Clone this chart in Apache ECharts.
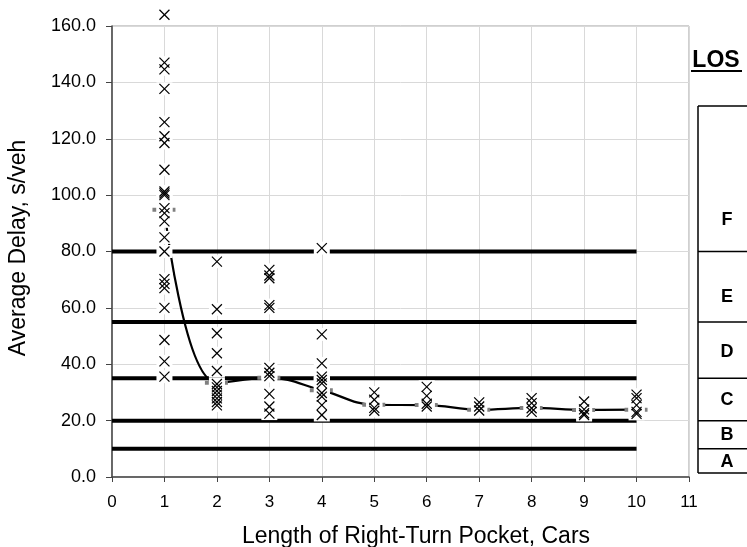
<!DOCTYPE html>
<html>
<head>
<meta charset="utf-8">
<script src="https://cdn.jsdelivr.net/npm/echarts@6/dist/echarts.min.js"></script>
<style>
html, body { margin: 0; padding: 0; background: #fff; }
#chart { width: 747px; height: 547px; }
</style>
</head>
<body>
<div id="chart"></div>
<script>
var delays1 = [164, 147, 144.6, 137.7, 125.9, 120.9, 118.5, 109, 101.3, 100.6, 100, 95.4, 93.6, 90.7, 85, 80, 70.2, 68.5, 67, 60, 48.6, 41, 35.6];
var delays2 = [76.4, 59.5, 51, 43.9, 37.6, 33, 31.8, 30.5, 29.2, 27.9, 26.6, 25.4];
var delays3 = [22.5, 25, 29.5, 35.8, 37, 38.7, 60, 61, 70.5, 71.5, 73.5];
var delays4 = [22, 25.5, 28.5, 29.8, 33.2, 34.4, 35.6, 40.3, 50.6, 81.2];
var delays5 = [30, 27.4, 24.5, 23.5];
var delays6 = [32, 28.8, 26, 25];
var delays7 = [26.5, 25, 23.6];
var delays8 = [28, 26.2, 24.4, 23.1];
var delays9 = [26.8, 24, 22.6, 22];
var delays10 = [29.2, 28, 25.5, 23.1, 22.4];

var pocketLengths = [1, 2, 3, 4, 5, 6, 7, 8, 9, 10];
var meanDelay = [94.8, 33.4, 35.2, 30.8, 25.6, 25.5, 23.9, 24.5, 23.8, 23.9];

// level of service bands
var losThresholds = [10, 20, 35, 55, 80];
var losLineX = [0, 10];
var losLabels = ['A', 'B', 'C', 'D', 'E', 'F'];
var losLabelDelay = [5.3, 14.8, 27.3, 44.4, 64, 91.2];

var FONT = '"Liberation Sans", Arial, sans-serif';

var allDelays = [delays1, delays2, delays3, delays4, delays5, delays6, delays7, delays8, delays9, delays10];
var obsData = [];
for (var i = 0; i < allDelays.length; i++) {
	for (var j = 0; j < allDelays[i].length; j++) {
		obsData.push([pocketLengths[i], allDelays[i][j]]);
	}
}
var meanData = pocketLengths.map(function (x, i) { return [x, meanDelay[i]]; });

// white patch behind every marker
function renderPatch(params, api) {
	var pt = api.coord([api.value(0), api.value(1)]);
	return { type: 'rect', shape: { x: pt[0] - 8, y: pt[1] - 6.5, width: 16, height: 13 }, style: { fill: '#fff' } };
}

function renderCross(params, api) {
	var pt = api.coord([api.value(0), api.value(1)]);
	var h = 5;
	var ln = { stroke: '#000', lineWidth: 1.2 };
	return {
		type: 'group',
		children: [
			{ type: 'line', shape: { x1: pt[0] - h, y1: pt[1] - h, x2: pt[0] + h, y2: pt[1] + h }, style: ln },
			{ type: 'line', shape: { x1: pt[0] - h, y1: pt[1] + h, x2: pt[0] + h, y2: pt[1] - h }, style: ln }
		]
	};
}

function renderDash(params, api) {
	var pt = api.coord([api.value(0), api.value(1)]);
	return {
		type: 'line',
		shape: { x1: pt[0] - 12, y1: pt[1], x2: pt[0] + 12, y2: pt[1] },
		style: { stroke: '#808080', lineWidth: 4, lineDash: [5, 4] }
	};
}

var chart = echarts.init(document.getElementById('chart'));

var series = [];
losThresholds.forEach(function (t) {
	series.push({
		type: 'line',
		data: losLineX.map(function (x) { return [x, t]; }),
		symbol: 'none',
		silent: true,
		z: 3,
		lineStyle: { color: '#000', width: 4, cap: 'butt' }
	});
});
series.push({
	type: 'line',
	data: meanData,
	smooth: 0.4,
	symbol: 'none',
	silent: true,
	z: 4,
	lineStyle: { color: '#000', width: 2.2 }
});
series.push({ type: 'custom', data: meanData, renderItem: renderDash, z: 5, silent: true });
series.push({ type: 'custom', data: obsData, renderItem: renderPatch, z: 6, silent: true });
series.push({ type: 'custom', data: obsData, renderItem: renderCross, z: 7, silent: true });

var option = {
	animation: false,
	grid: { left: 112, right: 58, top: 26, bottom: 70, show: true, borderColor: '#a0a0a0', borderWidth: 1 },
	xAxis: {
		type: 'value', min: 0, max: 11, interval: 1,
		axisLine: { lineStyle: { color: '#444', width: 1.5 } },
		axisTick: { show: true, length: 5, lineStyle: { color: '#444' } },
		axisLabel: { color: '#000', fontFamily: FONT, fontSize: 17, margin: 17 },
		splitLine: { show: true, lineStyle: { color: '#d9d9d9', width: 1 } }
	},
	yAxis: {
		type: 'value', min: 0, max: 160, interval: 20,
		axisLine: { show: true, lineStyle: { color: '#444', width: 1.5 } },
		axisTick: { show: true, length: 6, lineStyle: { color: '#444' } },
		axisLabel: { color: '#000', fontFamily: FONT, fontSize: 18, margin: 16, formatter: function (v) { return v.toFixed(1); } },
		splitLine: { show: true, lineStyle: { color: '#d9d9d9', width: 1 } }
	},
	series: series
};
chart.setOption(option);

// titles and the LOS table at the right
function yPix(v) { return chart.convertToPixel({ gridIndex: 0 }, [0, v])[1]; }
var tableLeft = 698, tableRight = 760, tableTop = 106, tableBottom = 473;
var lineStyle = { stroke: '#000', lineWidth: 1.5 };
var graphics = [
	{ type: 'text', x: 416, y: 537, style: { text: 'Length of Right-Turn Pocket, Cars', font: '23px ' + FONT, fill: '#000', align: 'center', verticalAlign: 'middle' } },
	{ type: 'text', x: 19, y: 248, rotation: Math.PI / 2, style: { text: 'Average Delay, s/veh', font: '23px ' + FONT, fill: '#000', align: 'center', verticalAlign: 'middle' } },
	{ type: 'text', x: 716, y: 61, style: { text: 'LOS', font: 'bold 23px ' + FONT, fill: '#000', align: 'center', verticalAlign: 'middle' } },
	{ type: 'line', shape: { x1: 691, y1: 71, x2: 742, y2: 71 }, style: { stroke: '#000', lineWidth: 2 } },
	{ type: 'line', shape: { x1: tableLeft, y1: tableTop, x2: tableLeft, y2: tableBottom }, style: lineStyle },
	{ type: 'line', shape: { x1: tableLeft, y1: tableTop, x2: tableRight, y2: tableTop }, style: lineStyle },
	{ type: 'line', shape: { x1: tableLeft, y1: tableBottom, x2: tableRight, y2: tableBottom }, style: lineStyle }
];
losThresholds.forEach(function (t) {
	var y = yPix(t);
	graphics.push({ type: 'line', shape: { x1: tableLeft, y1: y, x2: tableRight, y2: y }, style: lineStyle });
});
losLabels.forEach(function (lab, i) {
	graphics.push({ type: 'text', x: 727, y: yPix(losLabelDelay[i]), style: { text: lab, font: 'bold 18px ' + FONT, fill: '#000', align: 'center', verticalAlign: 'middle' } });
});
chart.setOption({ graphic: graphics });
</script>
</body>
</html>
